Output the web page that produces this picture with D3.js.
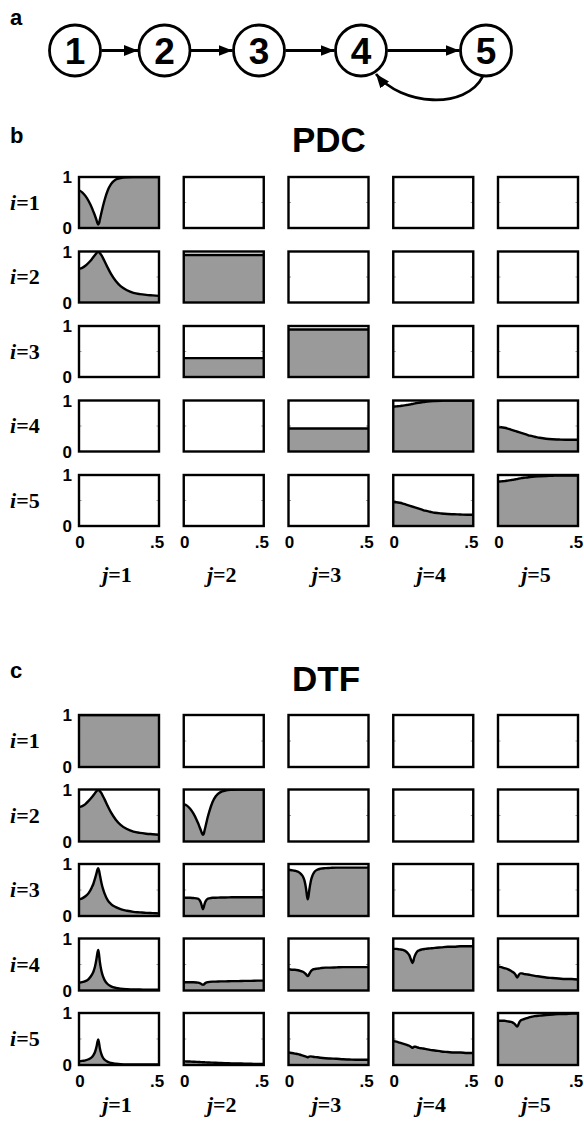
<!DOCTYPE html>
<html>
<head>
<meta charset="utf-8">
<script src="https://cdn.jsdelivr.net/npm/d3@7"></script>
<style>
  html, body { margin: 0; padding: 0; background: #fff; }
  svg { display: block; }
</style>
</head>
<body>
<svg id="fig" width="584" height="1122"></svg>
<script>
// Normalised frequency grid shared by every panel (0 .. Nyquist = 0.5)
const freq = [0, 0.02, 0.04, 0.06, 0.08, 0.09, 0.10, 0.11, 0.115, 0.12, 0.125, 0.13, 0.14, 0.15, 0.16, 0.18, 0.20, 0.23, 0.26, 0.30, 0.34, 0.38, 0.42, 0.46, 0.50];

const nodes = ["1", "2", "3", "4", "5"];
const xTicks = ["0", ".5"];
const yTicks = ["0", "1"];
const rowLabels = ["1", "2", "3", "4", "5"];
const colLabels = ["1", "2", "3", "4", "5"];

// ---- PDC, |pi_ij(f)| ----
const pdc_1_1 = [0.74, 0.70, 0.63, 0.53, 0.40, 0.32, 0.24, 0.15, 0.10, 0.07, 0.09, 0.16, 0.30, 0.43, 0.55, 0.74, 0.86, 0.95, 0.98, 0.995, 1, 1, 1, 1, 1];
const pdc_2_1 = [0.66, 0.68, 0.72, 0.78, 0.85, 0.89, 0.93, 0.97, 0.99, 1.0, 0.99, 0.97, 0.93, 0.87, 0.81, 0.68, 0.56, 0.42, 0.32, 0.24, 0.19, 0.165, 0.15, 0.14, 0.13];
const pdc_2_2 = [0.93, 0.93, 0.93, 0.93, 0.93, 0.93, 0.93, 0.93, 0.93, 0.93, 0.93, 0.93, 0.93, 0.93, 0.93, 0.93, 0.93, 0.93, 0.93, 0.93, 0.93, 0.93, 0.93, 0.93, 0.93];
const pdc_3_2 = [0.37, 0.37, 0.37, 0.37, 0.37, 0.37, 0.37, 0.37, 0.37, 0.37, 0.37, 0.37, 0.37, 0.37, 0.37, 0.37, 0.37, 0.37, 0.37, 0.37, 0.37, 0.37, 0.37, 0.37, 0.37];
const pdc_3_3 = [0.93, 0.93, 0.93, 0.93, 0.93, 0.93, 0.93, 0.93, 0.93, 0.93, 0.93, 0.93, 0.93, 0.93, 0.93, 0.93, 0.93, 0.93, 0.93, 0.93, 0.93, 0.93, 0.93, 0.93, 0.93];
const pdc_4_3 = [0.45, 0.45, 0.45, 0.45, 0.45, 0.45, 0.45, 0.45, 0.45, 0.45, 0.45, 0.45, 0.45, 0.45, 0.45, 0.45, 0.45, 0.45, 0.45, 0.45, 0.45, 0.45, 0.45, 0.45, 0.45];
const pdc_4_4 = [0.88, 0.885, 0.89, 0.90, 0.91, 0.915, 0.92, 0.925, 0.93, 0.93, 0.935, 0.94, 0.945, 0.95, 0.955, 0.965, 0.975, 0.985, 0.99, 0.995, 1, 1, 1, 1, 1];
const pdc_4_5 = [0.48, 0.475, 0.465, 0.45, 0.43, 0.42, 0.41, 0.40, 0.395, 0.39, 0.385, 0.38, 0.37, 0.36, 0.35, 0.33, 0.31, 0.29, 0.27, 0.25, 0.24, 0.235, 0.23, 0.23, 0.23];
const pdc_5_4 = [0.47, 0.465, 0.455, 0.44, 0.42, 0.41, 0.40, 0.39, 0.385, 0.38, 0.375, 0.37, 0.36, 0.35, 0.34, 0.32, 0.30, 0.28, 0.26, 0.245, 0.235, 0.23, 0.225, 0.22, 0.22];
const pdc_5_5 = [0.87, 0.875, 0.88, 0.89, 0.90, 0.905, 0.91, 0.915, 0.92, 0.92, 0.925, 0.93, 0.935, 0.94, 0.945, 0.95, 0.96, 0.97, 0.975, 0.98, 0.985, 0.99, 0.99, 0.99, 0.99];

// ---- DTF, |gamma_ij(f)| ----
const dtf_1_1 = [1, 1, 1, 1, 1, 1, 1, 1, 1, 1, 1, 1, 1, 1, 1, 1, 1, 1, 1, 1, 1, 1, 1, 1, 1];
const dtf_2_1 = [0.66, 0.68, 0.72, 0.78, 0.85, 0.89, 0.93, 0.97, 0.99, 1.0, 0.99, 0.97, 0.93, 0.87, 0.81, 0.68, 0.56, 0.42, 0.32, 0.24, 0.19, 0.165, 0.15, 0.14, 0.13];
const dtf_2_2 = [0.72, 0.69, 0.63, 0.54, 0.42, 0.35, 0.27, 0.19, 0.15, 0.13, 0.15, 0.21, 0.34, 0.47, 0.58, 0.76, 0.87, 0.95, 0.98, 0.995, 1, 1, 1, 1, 1];
const dtf_3_1 = [0.32, 0.34, 0.38, 0.44, 0.55, 0.62, 0.72, 0.83, 0.89, 0.92, 0.88, 0.80, 0.64, 0.52, 0.43, 0.30, 0.23, 0.17, 0.13, 0.10, 0.08, 0.07, 0.06, 0.055, 0.05];
const dtf_3_2 = [0.35, 0.35, 0.35, 0.345, 0.34, 0.33, 0.30, 0.23, 0.17, 0.13, 0.17, 0.23, 0.30, 0.33, 0.34, 0.35, 0.35, 0.355, 0.355, 0.36, 0.36, 0.36, 0.36, 0.36, 0.36];
const dtf_3_3 = [0.89, 0.88, 0.87, 0.85, 0.80, 0.76, 0.68, 0.52, 0.40, 0.32, 0.38, 0.50, 0.68, 0.78, 0.84, 0.89, 0.91, 0.92, 0.925, 0.93, 0.93, 0.93, 0.93, 0.93, 0.93];
const dtf_4_1 = [0.15, 0.16, 0.18, 0.22, 0.30, 0.36, 0.46, 0.62, 0.72, 0.78, 0.70, 0.56, 0.38, 0.27, 0.20, 0.12, 0.08, 0.05, 0.035, 0.025, 0.02, 0.02, 0.015, 0.015, 0.015];
const dtf_4_2 = [0.16, 0.16, 0.16, 0.16, 0.155, 0.15, 0.14, 0.125, 0.115, 0.11, 0.115, 0.13, 0.15, 0.16, 0.165, 0.17, 0.17, 0.175, 0.175, 0.18, 0.18, 0.185, 0.185, 0.19, 0.19];
const dtf_4_3 = [0.41, 0.40, 0.40, 0.39, 0.37, 0.36, 0.34, 0.31, 0.29, 0.28, 0.29, 0.32, 0.37, 0.40, 0.41, 0.42, 0.43, 0.44, 0.44, 0.445, 0.45, 0.45, 0.45, 0.45, 0.45];
const dtf_4_4 = [0.80, 0.80, 0.79, 0.78, 0.75, 0.72, 0.68, 0.60, 0.56, 0.53, 0.56, 0.62, 0.70, 0.75, 0.77, 0.79, 0.80, 0.81, 0.82, 0.83, 0.84, 0.84, 0.85, 0.85, 0.85];
const dtf_4_5 = [0.46, 0.45, 0.43, 0.41, 0.38, 0.36, 0.34, 0.30, 0.27, 0.25, 0.27, 0.30, 0.33, 0.33, 0.32, 0.31, 0.30, 0.28, 0.27, 0.25, 0.24, 0.23, 0.22, 0.22, 0.21];
const dtf_5_1 = [0.07, 0.08, 0.09, 0.11, 0.15, 0.19, 0.25, 0.36, 0.44, 0.49, 0.43, 0.33, 0.21, 0.14, 0.10, 0.06, 0.04, 0.025, 0.015, 0.01, 0.01, 0.01, 0.01, 0.01, 0.01];
const dtf_5_2 = [0.07, 0.068, 0.066, 0.063, 0.06, 0.058, 0.057, 0.055, 0.054, 0.053, 0.053, 0.052, 0.05, 0.049, 0.047, 0.045, 0.042, 0.039, 0.036, 0.032, 0.029, 0.026, 0.023, 0.021, 0.02];
const dtf_5_3 = [0.24, 0.23, 0.22, 0.21, 0.19, 0.18, 0.17, 0.16, 0.155, 0.15, 0.155, 0.16, 0.165, 0.16, 0.155, 0.15, 0.14, 0.13, 0.125, 0.12, 0.11, 0.105, 0.10, 0.10, 0.10];
const dtf_5_4 = [0.46, 0.45, 0.43, 0.41, 0.39, 0.38, 0.37, 0.35, 0.34, 0.33, 0.34, 0.35, 0.35, 0.34, 0.33, 0.32, 0.31, 0.29, 0.28, 0.26, 0.25, 0.24, 0.24, 0.23, 0.23];
const dtf_5_5 = [0.85, 0.85, 0.85, 0.84, 0.83, 0.82, 0.80, 0.77, 0.75, 0.74, 0.76, 0.80, 0.85, 0.87, 0.88, 0.90, 0.92, 0.94, 0.95, 0.96, 0.97, 0.98, 0.98, 0.99, 0.99];

// Panel matrices: row i (target), column j (source); null = identically zero
const pdcGrid = [
  [pdc_1_1, null, null, null, null],
  [pdc_2_1, pdc_2_2, null, null, null],
  [null, pdc_3_2, pdc_3_3, null, null],
  [null, null, pdc_4_3, pdc_4_4, pdc_4_5],
  [null, null, null, pdc_5_4, pdc_5_5]
];
const dtfGrid = [
  [dtf_1_1, null, null, null, null],
  [dtf_2_1, dtf_2_2, null, null, null],
  [dtf_3_1, dtf_3_2, dtf_3_3, null, null],
  [dtf_4_1, dtf_4_2, dtf_4_3, dtf_4_4, dtf_4_5],
  [dtf_5_1, dtf_5_2, dtf_5_3, dtf_5_4, dtf_5_5]
];

const svg = d3.select("#fig");
const SANS = "'Liberation Sans', Arial, sans-serif";
const SERIF = "'Liberation Serif', 'Times New Roman', serif";
const FILL = "#9a9a9a";

svg.append("rect").attr("width", 584).attr("height", 1122).attr("fill", "#fff");

// ---------- panel letters and titles ----------
const letter = (t, x, y) => svg.append("text").attr("x", x).attr("y", y)
  .attr("font-family", SANS).attr("font-weight", "bold").attr("font-size", 22).text(t);
letter("a", 10, 25);
letter("b", 10, 143);
letter("c", 10, 678);

const title = (t, x, y) => svg.append("text").attr("x", x).attr("y", y)
  .attr("font-family", SANS).attr("font-weight", "bold").attr("font-size", 35).text(t);
title("PDC", 292, 152);
title("DTF", 292, 691);

// ---------- network diagram ----------
const defs = svg.append("defs");
defs.append("marker").attr("id", "arrow")
  .attr("viewBox", "0 0 14 11").attr("refX", 14).attr("refY", 5.5)
  .attr("markerWidth", 14).attr("markerHeight", 11)
  .attr("markerUnits", "userSpaceOnUse").attr("orient", "auto")
  .append("path").attr("d", "M0,0 L14,5.5 L0,11 Z").attr("fill", "#000");

const nodeX = d3.scaleOrdinal().domain(nodes).range([75, 164.5, 259, 361, 486]);
const nodeY = 50.5, R = 25.5;
const net = svg.append("g");

// forward edges i -> i+1
const edges = [["1", "2"], ["2", "3"], ["3", "4"], ["4", "5"]];
net.selectAll("line.edge").data(edges).join("line")
  .attr("x1", d => nodeX(d[0]) + R + 1)
  .attr("x2", d => nodeX(d[1]) - R - 1)
  .attr("y1", nodeY).attr("y2", nodeY)
  .attr("stroke", "#000").attr("stroke-width", 2.8)
  .attr("marker-end", "url(#arrow)");

// feedback edge 5 -> 4
const fb = d3.path();
fb.moveTo(nodeX("5") - 3, nodeY + R);
fb.bezierCurveTo(nodeX("5") - 20, nodeY + 60, nodeX("4") + 40, nodeY + 55, nodeX("4") + 15, nodeY + R - 2);
net.append("path").attr("d", fb.toString()).attr("fill", "none")
  .attr("stroke", "#000").attr("stroke-width", 2.8).attr("marker-end", "url(#arrow)");

const ng = net.selectAll("g.node").data(nodes).join("g")
  .attr("transform", d => `translate(${nodeX(d)},${nodeY})`);
ng.append("circle").attr("r", R).attr("fill", "#fff").attr("stroke", "#000").attr("stroke-width", 2.8);
ng.append("text").attr("text-anchor", "middle").attr("dy", 13)
  .attr("font-family", SANS).attr("font-weight", "bold").attr("font-size", 37).text(d => d);

// ---------- panel matrices ----------
const W = 80;
const x = d3.scaleLinear().domain([0, 0.5]).range([0, W]);

function drawMatrix(grid, top, H, tickGap, jGap, id) {
  const colLeft = d3.scalePoint().domain(colLabels).range([79, 498]);
  const rowTop = d3.scalePoint().domain(rowLabels).range([top, top + 298]);
  const y = d3.scaleLinear().domain([0, 1]).range([H, 0]);
  const area = d3.area().x((d, k) => x(freq[k])).y0(H).y1(d => y(d)).curve(d3.curveMonotoneX);
  const line = d3.line().x((d, k) => x(freq[k])).y(d => y(d)).curve(d3.curveMonotoneX);

  defs.append("clipPath").attr("id", "clip-" + id)
    .append("rect").attr("width", W).attr("height", H);

  rowLabels.forEach((ri, i) => {
    colLabels.forEach((cj, j) => {
      const g = svg.append("g").attr("transform", `translate(${colLeft(cj)},${rowTop(ri)})`);
      g.append("rect").attr("width", W).attr("height", H).attr("fill", "#fff");
      const vals = grid[i][j];
      if (vals) {
        const c = g.append("g").attr("clip-path", `url(#clip-${id})`);
        c.append("path").datum(vals).attr("d", area).attr("fill", FILL);
        c.append("path").datum(vals).attr("d", line).attr("fill", "none")
          .attr("stroke", "#000").attr("stroke-width", 2.4);
      }
      // faint mid ticks on both vertical edges
      g.append("line").attr("x1", 0).attr("x2", 2.5).attr("y1", y(0.5)).attr("y2", y(0.5))
        .attr("stroke", "#999").attr("stroke-width", 1);
      g.append("line").attr("x1", W - 2.5).attr("x2", W).attr("y1", y(0.5)).attr("y2", y(0.5))
        .attr("stroke", "#999").attr("stroke-width", 1);
      g.append("rect").attr("width", W).attr("height", H).attr("fill", "none")
        .attr("stroke", "#000").attr("stroke-width", 2.4);
    });

    // y tick labels for the row
    const yl = svg.append("g").attr("transform", `translate(72,${rowTop(ri)})`);
    yl.selectAll("text").data(yTicks).join("text")
      .attr("x", 0).attr("y", d => y(+d)).attr("dy", 6)
      .attr("text-anchor", "end").attr("font-family", SANS).attr("font-weight", "bold")
      .attr("font-size", 17).text(d => d);

    // row label  i=n
    const rl = svg.append("text").attr("x", 10).attr("y", rowTop(ri) + H / 2 + 7)
      .attr("font-family", SERIF).attr("font-weight", "bold").attr("font-size", 22);
    rl.append("tspan").attr("font-style", "italic").text("i");
    rl.append("tspan").text("=" + ri);
  });

  const bottom = rowTop("5") + H;
  colLabels.forEach(cj => {
    const g = svg.append("g").attr("transform", `translate(${colLeft(cj)},${bottom})`);
    g.selectAll("text.xt").data(xTicks).join("text")
      .attr("x", d => x(d === "0" ? 0 : 0.5) + (d === "0" ? 1 : -2))
      .attr("y", tickGap).attr("text-anchor", "middle")
      .attr("font-family", SANS).attr("font-weight", "bold").attr("font-size", 17).text(d => d);
    const jl = g.append("text").attr("x", W / 2 - 2).attr("y", jGap)
      .attr("text-anchor", "middle").attr("font-family", SERIF)
      .attr("font-weight", "bold").attr("font-size", 22);
    jl.append("tspan").attr("font-style", "italic").text("j");
    jl.append("tspan").text("=" + cj);
  });
}

drawMatrix(pdcGrid, 177, 51, 22, 56, "pdc");
drawMatrix(dtfGrid, 715, 52, 22, 47, "dtf");
</script>
</body>
</html>
